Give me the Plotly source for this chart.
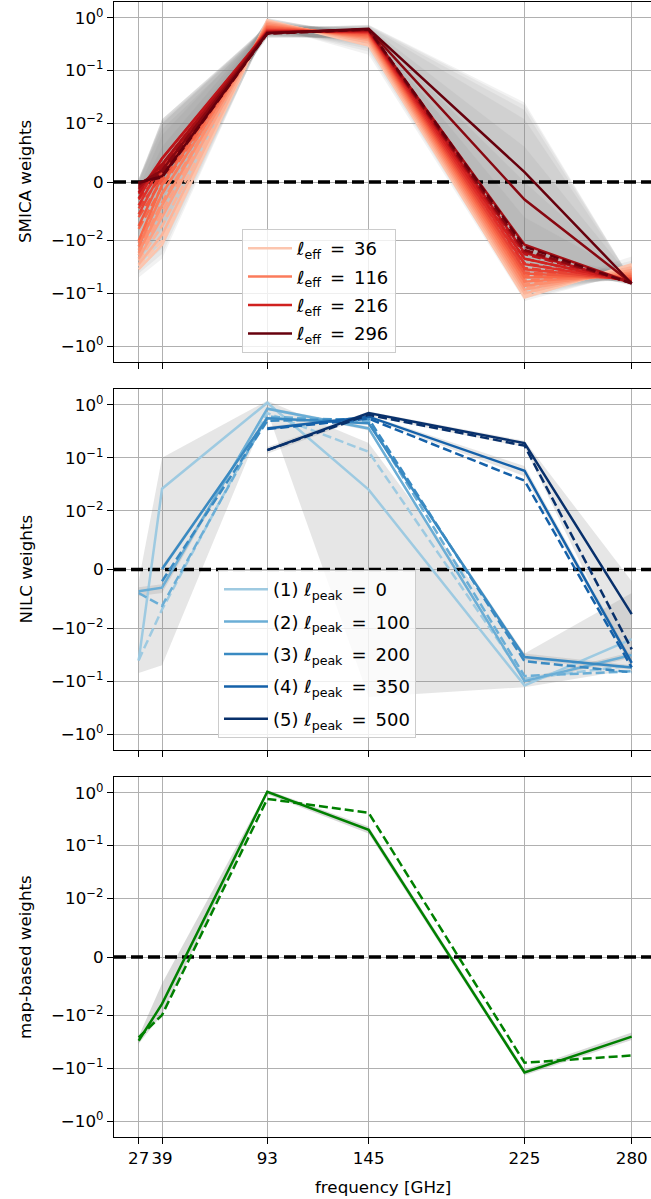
import numpy as np
import plotly.graph_objects as go

# ---------------------------------------------------------------- data
freqs = [27, 39, 93, 145, 225, 280]
freq_labels = ["27", "39", "93", "145", "225", "280"]

# SMICA: one row per multipole bin (columns follow freqs)
ell_eff = [36, 56, 76, 96, 116, 136, 156, 176, 196, 216, 236, 256, 276, 296]
smica_legend_bins = [36, 116, 216, 296]

smica_w = [
    [-0.035, -0.012, 0.90, 0.30, -0.12, -0.028],
    [-0.028, -0.009, 0.85, 0.34, -0.10, -0.032],
    [-0.022, -0.006, 0.80, 0.38, -0.085, -0.036],
    [-0.017, -0.004, 0.75, 0.41, -0.072, -0.040],
    [-0.013, -0.002, 0.70, 0.44, -0.060, -0.044],
    [-0.010, -0.0005, 0.66, 0.47, -0.050, -0.048],
    [-0.0075, 0.001, 0.62, 0.50, -0.042, -0.052],
    [-0.0055, 0.002, 0.59, 0.52, -0.035, -0.055],
    [-0.004, 0.003, 0.57, 0.54, -0.028, -0.058],
    [-0.0028, 0.004, 0.55, 0.56, -0.022, -0.060],
    [-0.0018, 0.004, 0.54, 0.58, -0.017, -0.062],
    [-0.001, 0.003, 0.53, 0.59, -0.012, -0.063],
    [-0.0004, 0.002, 0.52, 0.60, -0.003, -0.064],
    [-0.0001, 0.001, 0.51, 0.62, 0.0017, -0.065],
]
smica_w_alt = [
    [-0.030, -0.010, 0.85, 0.33, -0.11, -0.030],
    [-0.024, -0.0075, 0.80, 0.37, -0.095, -0.034],
    [-0.019, -0.005, 0.76, 0.40, -0.080, -0.038],
    [-0.015, -0.0035, 0.72, 0.43, -0.068, -0.042],
    [-0.011, -0.002, 0.68, 0.46, -0.057, -0.046],
    [-0.008, -0.0008, 0.64, 0.49, -0.047, -0.050],
    [-0.006, 0.0003, 0.61, 0.51, -0.040, -0.053],
    [-0.0045, 0.0012, 0.58, 0.53, -0.033, -0.056],
    [-0.003, 0.002, 0.56, 0.55, -0.027, -0.059],
    [-0.002, 0.0028, 0.54, 0.57, -0.022, -0.061],
    [-0.0013, 0.003, 0.53, 0.58, -0.018, -0.062],
    [-0.0007, 0.0025, 0.52, 0.59, -0.016, -0.063],
    [-0.0003, 0.0015, 0.51, 0.60, -0.015, -0.064],
    [-0.0001, 0.0008, 0.50, 0.61, -0.013, -0.065],
]
smica_lo = [
    [-0.050, -0.022, 0.70, 0.20, -0.14, -0.040],
    [-0.042, -0.018, 0.66, 0.23, -0.125, -0.042],
    [-0.035, -0.014, 0.62, 0.26, -0.11, -0.045],
    [-0.029, -0.011, 0.58, 0.29, -0.095, -0.048],
    [-0.024, -0.008, 0.55, 0.32, -0.082, -0.052],
    [-0.019, -0.006, 0.52, 0.34, -0.070, -0.055],
    [-0.015, -0.004, 0.49, 0.36, -0.060, -0.058],
    [-0.012, -0.003, 0.47, 0.38, -0.052, -0.060],
    [-0.009, -0.002, 0.46, 0.39, -0.045, -0.062],
    [-0.007, -0.001, 0.45, 0.40, -0.038, -0.064],
    [-0.005, -0.0005, 0.44, 0.41, -0.032, -0.066],
    [-0.004, -0.0003, 0.43, 0.42, -0.028, -0.068],
    [-0.003, -0.0002, 0.42, 0.43, -0.025, -0.070],
    [-0.002, -0.0001, 0.42, 0.44, -0.022, -0.072],
]
smica_hi = [
    [-0.022, -0.004, 1.00, 0.42, -0.090, -0.020],
    [-0.016, -0.002, 0.98, 0.45, -0.075, -0.024],
    [-0.011, 0.0, 0.95, 0.48, -0.060, -0.028],
    [-0.007, 0.002, 0.90, 0.50, -0.048, -0.032],
    [-0.004, 0.004, 0.86, 0.53, -0.036, -0.036],
    [-0.002, 0.006, 0.82, 0.56, -0.025, -0.040],
    [-0.001, 0.008, 0.78, 0.60, -0.015, -0.044],
    [0.0, 0.010, 0.74, 0.63, -0.006, -0.047],
    [0.0, 0.012, 0.71, 0.66, 0.0, -0.050],
    [0.0005, 0.012, 0.69, 0.68, 0.006, -0.052],
    [0.0005, 0.012, 0.67, 0.70, 0.012, -0.054],
    [0.0005, 0.011, 0.65, 0.72, 0.018, -0.055],
    [0.0005, 0.010, 0.64, 0.73, 0.022, -0.056],
    [0.0005, 0.009, 0.63, 0.74, 0.025, -0.057],
]

# NILC: one row per needlet band (None = channel not used)
ell_peak = [0, 100, 200, 350, 500]
nilc_w = [
    [-0.041, 0.026, 1.10, 0.025, -0.12, -0.016],
    [-0.0037, -0.0031, 0.85, 0.36, -0.10, -0.032],
    [None, 0.0001, 0.56, 0.45, -0.035, -0.055],
    [None, None, 0.36, 0.60, 0.057, -0.045],
    [None, None, 0.14, 0.70, 0.19, -0.0076],
]
nilc_w_alt = [
    [-0.040, -0.0068, 0.70, 0.13, -0.090, -0.050],
    [-0.004, -0.0062, 0.60, 0.50, -0.080, -0.065],
    [None, -0.002, 0.50, 0.55, -0.042, -0.068],
    [None, None, 0.35, 0.55, 0.037, -0.055],
    [None, None, 0.14, 0.65, 0.17, -0.025],
]
nilc_lo = [
    [-0.070, -0.050, 0.75, -0.20, -0.13, -0.060],
    [-0.0045, -0.0040, 0.80, 0.33, -0.11, -0.036],
    [None, -0.0004, 0.52, 0.42, -0.040, -0.060],
    [None, None, 0.33, 0.56, 0.045, -0.052],
    [None, None, 0.12, 0.62, 0.16, -0.060],
]
nilc_hi = [
    [-0.002, 0.10, 1.20, 0.19, -0.030, -0.004],
    [-0.003, -0.0025, 0.90, 0.39, -0.090, -0.028],
    [None, 0.0006, 0.60, 0.48, -0.030, -0.050],
    [None, None, 0.39, 0.64, 0.070, -0.038],
    [None, None, 0.16, 0.75, 0.21, -0.002],
]

# map-based weights
map_w = [-0.030, -0.008, 1.05, 0.20, -0.12, -0.025]
map_w_alt = [-0.026, -0.0099, 0.77, 0.42, -0.078, -0.057]
map_lo = [-0.034, -0.0098, 0.94, 0.17, -0.135, -0.029]
map_hi = [-0.025, -0.0045, 1.13, 0.23, -0.105, -0.021]

# ---------------------------------------------------------------- styling
reds = ["#fcc5ae", "#fcb398", "#fca083", "#fc8e6e", "#fb7b5b", "#f8694a",
        "#f1573f", "#e74334", "#de2f29", "#d0211f", "#bc151b", "#a50f15",
        "#870811", "#67000d"]
blues = ["#9ecae1", "#6baed6", "#3a8ac2", "#1561a9", "#08306b"]
LINTHRESH = 0.01
LINSCALE = 1.0 / (1.0 - 1.0 / 10.0)
LW = 2.5
DASH = "9px,4px"
FONT = "DejaVu Sans"
FS = 16.7
LEG_FS = 18
SP = "\u2002"


def symlog(v):
    """Symmetric-log transform (linear inside +/-LINTHRESH)."""
    if v is None:
        return None
    a = abs(v)
    if a <= LINTHRESH:
        return v / LINTHRESH * LINSCALE
    return np.sign(v) * (LINSCALE + np.log10(a / LINTHRESH))


def series(vals):
    xs, ys = [], []
    for f, v in zip(freqs, vals):
        if v is not None:
            xs.append(f)
            ys.append(symlog(v))
    return xs, ys


def band(lo, hi):
    pts = [(f, l, h) for f, l, h in zip(freqs, lo, hi) if l is not None]
    xs = [p[0] for p in pts] + [p[0] for p in reversed(pts)]
    ys = [symlog(p[2]) for p in pts] + [symlog(p[1]) for p in reversed(pts)]
    return xs, ys


fig = go.Figure()
panels = [("x", "y"), ("x2", "y2"), ("x3", "y3")]


def add_band(lo, hi, ax, alpha):
    xs, ys = band(lo, hi)
    fig.add_trace(go.Scatter(x=xs, y=ys, xaxis=ax[0], yaxis=ax[1], mode="lines",
                             fill="toself", fillcolor=f"rgba(128,128,128,{alpha})",
                             line=dict(width=0), hoverinfo="skip", showlegend=False))


def add_zero(ax):
    fig.add_trace(go.Scatter(x=[14.35, 289.9], y=[0, 0], xaxis=ax[0], yaxis=ax[1],
                             mode="lines", line=dict(color="black", width=3.3, dash="12px,5px"),
                             hoverinfo="skip", showlegend=False))


def add_line(vals, ax, color, dash=None, name=None, legend=None):
    xs, ys = series(vals)
    fig.add_trace(go.Scatter(x=xs, y=ys, xaxis=ax[0], yaxis=ax[1], mode="lines",
                             line=dict(color=color, width=LW, dash=dash),
                             name=name or "", showlegend=name is not None,
                             legend=legend, legendgroup=name, hoverinfo="skip"))


# SMICA panel
for lo, hi in zip(smica_lo, smica_hi):
    add_band(lo, hi, panels[0], 0.1)
add_zero(panels[0])
for i, ell in enumerate(ell_eff):
    name = f"ℓ<sub>eff</sub>{SP}={SP}{ell}" if ell in smica_legend_bins else None
    add_line(smica_w_alt[i], panels[0], reds[i], dash=DASH)
    add_line(smica_w[i], panels[0], reds[i], name=name, legend="legend")

# NILC panel
for lo, hi in zip(nilc_lo, nilc_hi):
    add_band(lo, hi, panels[1], 0.2)
add_zero(panels[1])
for i, lp in enumerate(ell_peak):
    add_line(nilc_w_alt[i], panels[1], blues[i], dash=DASH)
    add_line(nilc_w[i], panels[1], blues[i],
             name=f"({i + 1}) ℓ<sub>peak</sub>{SP}={SP}{lp}", legend="legend2")

# map-based panel
add_band(map_lo, map_hi, panels[2], 0.3)
add_zero(panels[2])
add_line(map_w_alt, panels[2], "#008000", dash=DASH)
add_line(map_w, panels[2], "#008000")

# ---------------------------------------------------------------- layout
W, H = 651, 1199
L, T, B = 114, 2, 62
plot_h = H - T - B


def ydom(top_px, bot_px):
    return [(H - B - bot_px) / plot_h, (H - B - top_px) / plot_h]


y_ticks = [-1, -0.1, -0.01, 0, 0.01, 0.1, 1]
y_text = ["−10<sup>0</sup>", "−10<sup>−1</sup>", "−10<sup>−2</sup>", "0",
          "10<sup>−2</sup>", "10<sup>−1</sup>", "10<sup>0</sup>"]

xbase = dict(range=[14.35, 289.9], tickvals=freqs, ticktext=freq_labels,
             showgrid=True, gridcolor="#b0b0b0", gridwidth=1.3,
             showline=True, linecolor="black", linewidth=1.3, mirror=True,
             ticks="outside", ticklen=6, tickwidth=1.3, tickcolor="black",
             zeroline=False, tickfont=dict(family=FONT, size=FS, color="black"))
ybase = dict(range=[-symlog(2), symlog(2)], tickvals=[symlog(v) for v in y_ticks],
             ticktext=y_text, showgrid=True, gridcolor="#b0b0b0", gridwidth=1.3,
             showline=True, linecolor="black", linewidth=1.3,
             ticks="outside", ticklen=6, tickwidth=1.3, tickcolor="black",
             zeroline=False, tickfont=dict(family=FONT, size=FS, color="black"))

leg_style = dict(xanchor="left", yanchor="top", bgcolor="rgba(255,255,255,0.8)",
                 bordercolor="#cccccc", borderwidth=1, itemwidth=44,
                 font=dict(family=FONT, size=LEG_FS, color="black"))

doms = [ydom(2, 362), ydom(389, 750), ydom(777, 1137)]
layout = dict(
    width=W, height=H, margin=dict(l=L, r=0, t=T, b=B),
    paper_bgcolor="white", plot_bgcolor="white",
    font=dict(family=FONT, size=FS, color="black"),
    xaxis=dict(xbase, anchor="y", showticklabels=False),
    xaxis2=dict(xbase, anchor="y2", matches="x", showticklabels=False),
    xaxis3=dict(xbase, anchor="y3", matches="x"),
    yaxis=dict(ybase, anchor="x", domain=doms[0]),
    yaxis2=dict(ybase, anchor="x2", domain=doms[1]),
    yaxis3=dict(ybase, anchor="x3", domain=doms[2]),
    legend=dict(leg_style, x=(242 - L) / (W - L), y=(H - B - 229) / plot_h, tracegroupgap=2),
    legend2=dict(leg_style, x=(218 - L) / (W - L), y=(H - B - 570) / plot_h, tracegroupgap=6),
    showlegend=True,
)
fig.update_layout(**layout)

ylabels = ["SMICA weights", "NILC weights", "map-based weights"]
for lab, dom in zip(ylabels, doms):
    fig.add_annotation(text=lab, textangle=-90, xref="paper", yref="paper",
                       x=(25 - L) / (W - L), y=(dom[0] + dom[1]) / 2,
                       xanchor="center", yanchor="middle", showarrow=False,
                       font=dict(family=FONT, size=FS, color="black"))
fig.add_annotation(text="frequency [GHz]", xref="paper", yref="paper",
                   x=0.5, y=(H - B - 1187) / plot_h, xanchor="center", yanchor="middle",
                   showarrow=False, font=dict(family=FONT, size=FS, color="black"))

fig.write_html("out.html")
